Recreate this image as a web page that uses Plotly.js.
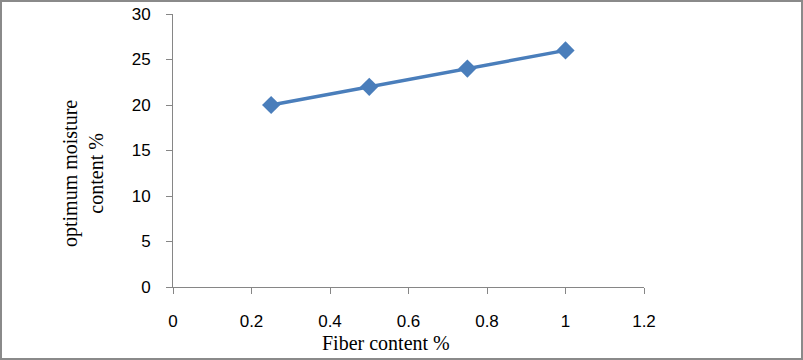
<!DOCTYPE html>
<html><head><meta charset="utf-8">
<script src="https://cdn.plot.ly/plotly-3.0.1.min.js"></script>
<style>html,body{margin:0;padding:0;background:#fff}#wrap{position:relative;width:803px;height:360px}#chart{width:803px;height:360px}#frame{position:absolute;left:0;top:0;width:803px;height:360px;box-sizing:border-box;border:2px solid #8a8a8a;pointer-events:none}</style>
</head><body><div id="wrap"><div id="chart"></div><div id="frame"></div></div>
<script>
const fiberContent = [0.25, 0.5, 0.75, 1];
const moistureContent = [20, 22, 24, 26];
const xTicks = [0, 0.2, 0.4, 0.6, 0.8, 1, 1.2];
const xTickText = ['0', '0.2', '0.4', '0.6', '0.8', '1', '1.2'];
const yTicks = [0, 5, 10, 15, 20, 25, 30];

const tickFont = {family: 'Liberation Sans, Arial, sans-serif', size: 17, color: '#000'};
const titleFont = {family: 'Liberation Serif, Times New Roman, serif', size: 20, color: '#000'};
const W = 471, H = 273;

Plotly.newPlot('chart', [{
  x: fiberContent, y: moistureContent, type: 'scatter', mode: 'lines+markers',
  line: {color: '#4a7ebb', width: 3.5},
  marker: {symbol: 'diamond', size: 14, color: '#4a7ebb'}
}], {
  width: 803, height: 360,
  margin: {l: 173, r: 159, t: 14, b: 73},
  paper_bgcolor: '#fff', plot_bgcolor: '#fff',
  showlegend: false,
  xaxis: {range: [0, 1.2], tickvals: xTicks, ticktext: xTickText, showgrid: false, zeroline: false,
    showline: true, linecolor: '#868686', linewidth: 1, ticks: 'outside', ticklen: 6, tickcolor: '#868686',
    tickfont: tickFont, ticklabelstandoff: 13},
  yaxis: {range: [0, 30], tickvals: yTicks, showgrid: false, zeroline: false,
    showline: true, linecolor: '#868686', linewidth: 1, ticks: 'outside', ticklen: 6, tickcolor: '#868686',
    tickfont: tickFont, ticklabelstandoff: 12},
  annotations: [{
    xref: 'paper', yref: 'paper', x: (83-173)/W, y: (287-174)/H, xanchor: 'center', yanchor: 'middle',
    text: 'optimum moisture<br>content %', textangle: -90, showarrow: false, font: titleFont, align: 'center'
  }, {
    xref: 'paper', yref: 'paper', x: (386-173)/W, y: (287-343)/H, xanchor: 'center', yanchor: 'middle',
    text: 'Fiber content %', showarrow: false, font: titleFont
  }]
}, {displayModeBar: false, staticPlot: true});
</script></body></html>
